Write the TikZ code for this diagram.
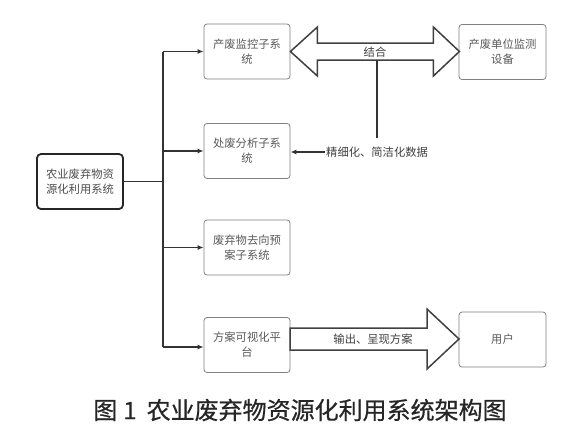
\documentclass[tikz,border=0pt]{standalone}
\usepackage{fontspec}
\setmainfont{Noto Sans CJK SC}
\newfontfamily\capfont[FakeBold=0.6]{Noto Sans CJK SC}
\usetikzlibrary{arrows.meta}
\begin{document}
\begin{tikzpicture}[x=1pt,y=-1pt,
  box/.style={draw=black!50, line width=0.8pt, rounded corners=3pt, align=center,
    font=\fontsize{11.3}{15}\selectfont, text=black!65, inner sep=0pt,
    minimum width=86pt, minimum height=55pt},
  mainbox/.style={box, draw=black!85, line width=1.8pt, rounded corners=4pt, text=black!70},
  conn/.style={draw=black!80, line width=1.2pt},
  arr/.style={conn, -{Latex[length=6pt,width=5pt]}},
  bigarrow/.style={draw=black!75, line width=1.5pt, fill=white, line join=miter},
  lbl/.style={font=\fontsize{11.3}{13}\selectfont, text=black!75, inner sep=1pt}]
\useasboundingbox (0,0) rectangle (580,439);

\node[mainbox] (main) at (80,181.5) {农业废弃物资\\源化利用系统};
\node[box] (b1) at (247,51.5) {产废监控子系\\统};
\node[box] (b2) at (247,151) {处废分析子系\\统};
\node[box] (b3) at (247,247.5) {废弃物去向预\\案子系统};
\node[box] (b4) at (247,345) {方案可视化平\\台};
\node[box, minimum width=87pt] (dev) at (502.5,52) {产废单位监测\\设备};
\node[box, minimum width=87pt] (user) at (502.5,339.5) {用户};

% trunk
\coordinate (t1) at (163,51.5);
\coordinate (t4) at (163,347);
\draw[conn] (t1) -- (t4);
\draw[conn] (main.east) -- (main.east -| t1);
\draw[arr] (t1) -- (b1.west);
\draw[arr] (b2.west -| t1) -- (b2.west);
\draw[arr] (b3.west -| t1) -- (b3.west);
\draw[arr] (t4) -- (t4 -| b4.west);

% double arrow
\draw[bigarrow] (b1.east) -- ++(27,-24.5) -- ++(0,16) -- ++(116,0) -- ++(0,-16)
  -- ++(26,24.5) -- ++(-26,24.5) -- ++(0,-16) -- ++(-116,0) -- ++(0,16) -- cycle;
\node[lbl] (jh) at (375,52) {结合};

% data line
\node[lbl, anchor=west] (d) at (325,152) {精细化、简洁化数据};
\coordinate (j0) at (377,60);
\coordinate (j1) at (377,138);
\draw[conn] (j0) -- (j1);
\draw[arr] (d.west) -- (d.west -| b2.east);

% output arrow
\draw[bigarrow] (290,328) -- (427,328) -- (427,309) -- (459,339) -- (427,369)
  -- (427,350) -- (290,350) -- cycle;
\node[lbl] (sc) at (373,339) {输出、呈现方案};

% caption
\node[font=\capfont\fontsize{24}{28}\selectfont, text=black!85] (cap) at (300,410) {图\hspace{6pt}1\hspace{10pt}农业废弃物资源化利用系统架构图};
\end{tikzpicture}
\end{document}
